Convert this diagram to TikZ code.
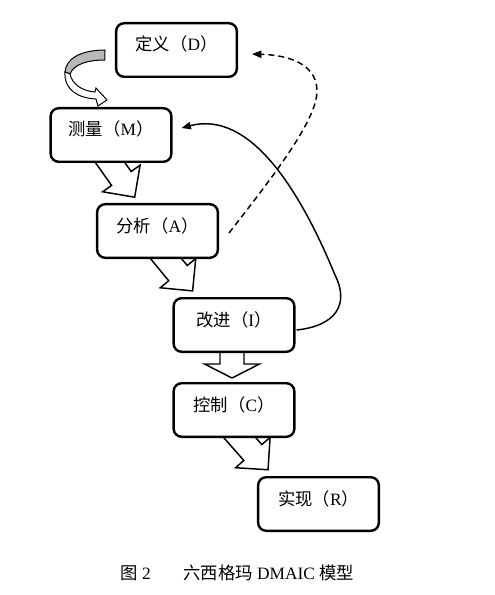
\documentclass[tikz,border=0pt]{standalone}
\usepackage{fontspec}
\setmainfont{Liberation Serif}
\newfontfamily\cjk{Noto Sans CJK SC}
\usetikzlibrary{arrows.meta,calc,backgrounds}

\tikzset{every picture/.style={line width=0.75pt}}
\tikzset{
  stage/.style={draw, fill=white, line width=1.8pt, rounded corners=6pt,
    minimum width=90.5pt, minimum height=40.2pt, text height=9.5pt, text depth=8pt,
    font=\fontsize{13}{15}\selectfont},
  blk/.style={draw, fill=white, line width=1.1pt, line join=miter},
  back/.style={line width=1.1pt, -{Triangle[length=7pt,width=5.5pt]}},
  caption/.style={inner sep=0pt, anchor=base west, font=\fontsize{13}{15}\selectfont}
}

\begin{document}
\begin{tikzpicture}[x=0.75pt,y=0.75pt,yscale=-1,xscale=1]
	\path[use as bounding box] (0,0) rectangle (495,595);

	% Stages
	\node[stage] (D) at (176.5,50) {{\cjk 定义（}D{\cjk ）}};
	\node[stage] (M) at (111,135) {{\cjk 测量（}M{\cjk ）}};
	\node[stage] (A) at (157.5,231) {{\cjk 分析（}A{\cjk ）}};
	\node[stage] (I) at (234,325) {{\cjk 改进（}I{\cjk ）}};
	\node[stage] (C) at (234,410) {{\cjk 控制（}C{\cjk ）}};
	\node[stage] (R) at (318.5,504) {{\cjk 实现（}R{\cjk ）}};

	\begin{scope}[on background layer]
	% Block arrows, slanted
	\foreach \from/\dx/\dy/\ang in {M/-7/-9/54.6, A/1.4/-9/50.5, C/-1/-8/48.6}{
		\coordinate (t) at ($(\from.south)+(\dx,\dy)$);
		\draw[blk] ($(t)+({\ang-90}:12)$) -- ($(t)+(\ang:30)+({\ang-90}:12)$) -- ($(t)+(\ang:30)+({\ang-90}:23)$) -- ($(t)+(\ang:53)$) -- ($(t)+(\ang:30)+({\ang+90}:23)$) -- ($(t)+(\ang:30)+({\ang+90}:12)$) -- ($(t)+({\ang+90}:12)$) -- cycle;
	}
	% Block arrow I to C
	\draw[blk] ($(I.south)+(-14,-4)$) -- ($(I.south)+(-14,11)$) -- ($(I.south)+(-29.5,11)$) -- ($(C.north)+(-2,-4)$) -- ($(I.south)+(25.5,11)$) -- ($(I.south)+(10,11)$) -- ($(I.south)+(10,-4)$) -- cycle;
	\end{scope}

	% Curved ribbon D to M
	\draw[fill=black!28] ($(D.west)+(-10,0)$) -- ($(D.west)+(-10,10)$) .. controls ($(D.west)+(-27,10)$) and ($(D.west)+(-41,14)$) .. ($(D.west)+(-45,24)$) -- ($(D.west)+(-50,22)$) .. controls ($(D.west)+(-49,8)$) and ($(D.west)+(-33,0)$) .. ($(D.west)+(-10,0)$) -- cycle;
	\draw[fill=white] ($(D.west)+(-45,24)$) .. controls ($(D.west)+(-43,34)$) and ($(D.west)+(-33,41)$) .. ($(D.west)+(-20,42)$) -- ($(D.west)+(-19,38)$) -- ($(D.west)+(-8,50)$) -- ($(D.west)+(-17,56)$) -- ($(D.west)+(-19,49)$) .. controls ($(D.west)+(-37,48)$) and ($(D.west)+(-51,40)$) .. ($(D.west)+(-50,22)$) -- cycle;

	% Feedback I to M
	\coordinate (bendI) at (335,275);
	\draw[back] ($(I.east)+(1,5)$) .. controls (335,326) and (350,305) .. (bendI) .. controls (300,190) and (250,110) .. ($(M.east)+(9,-7)$);
	% Feedback A to D
	\coordinate (bendA) at (317,90);
	\draw[back, dash pattern=on 4.5pt off 3pt] ($(A.east)+(10,2)$) .. controls (270,180) and (318,120) .. (bendA) .. controls (316,62) and (285,55) .. ($(D.east)+(14,4)$);

	% Caption
	\node[caption] (figno) at (120,579) {{\cjk 图} 2};
	\node[caption] (figtitle) at (183,579) {{\cjk 六西格玛} DMAIC {\cjk 模型}};

\end{tikzpicture}
\end{document}
